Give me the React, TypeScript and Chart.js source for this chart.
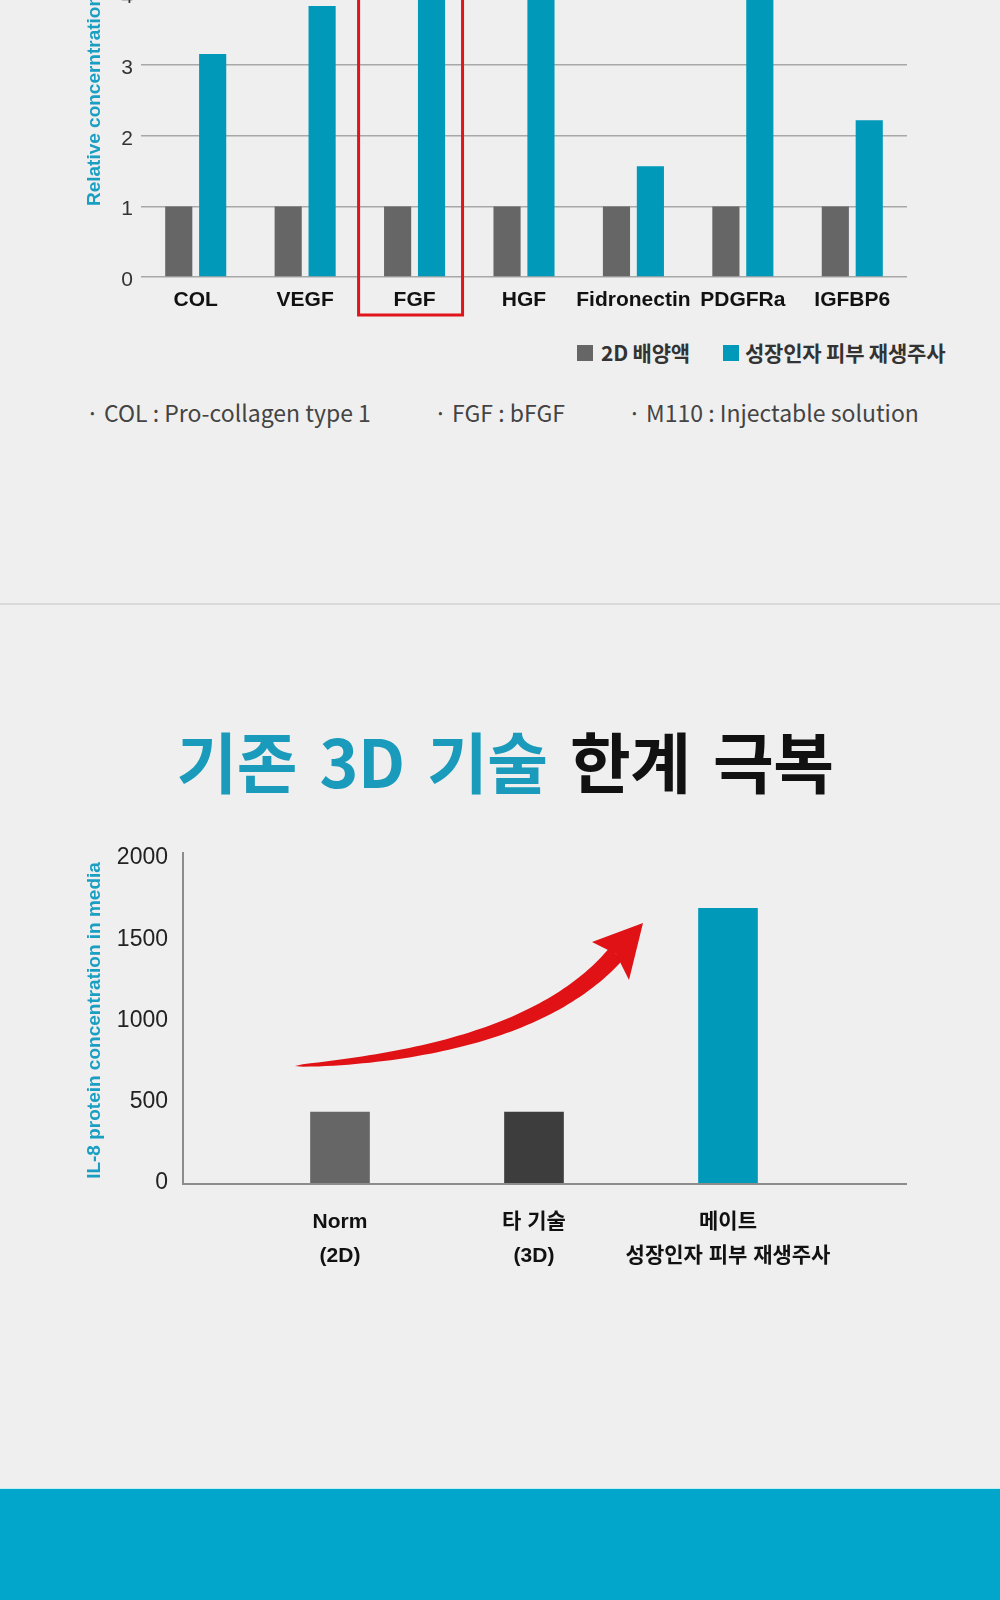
import React, { useEffect, useRef } from "react";
import { Chart, registerables } from "chart.js";

Chart.register(...registerables);

// ---------- data: top chart ----------
const topCategories = ["COL", "VEGF", "FGF", "HGF", "Fidronectin", "PDGFRa", "IGFBP6"];
const top2DValues = [1, 1, 1, 1, 1, 1, 1];
const topInjectionValues = [3.16, 3.84, 4.52, 4.35, 1.57, 4.71, 2.22];
const topYMin = 0;
const topYMax = 5;
const topYStep = 1;
const topYTitle = "Relative concerntration";
const seriesNames = ["2D 배양액", "성장인자 피부 재생주사"];
const highlightCategory = "FGF";
const footnotes = ["· COL : Pro-collagen type 1", "· FGF : bFGF", "· M110 : Injectable solution"];

// ---------- data: bottom chart ----------
const bottomCategories = [["Norm", "(2D)"], ["타 기술", "(3D)"], ["메이트", "성장인자 피부 재생주사"]];
const bottomValues = [437, 437, 1690];
const bottomYMin = 0;
const bottomYMax = 2000;
const bottomYStep = 500;
const bottomYTitle = "IL-8 protein concentration in media";
const titleBlue = "기존 3D 기술";
const titleBlack = "한계 극복";

// ---------- styles ----------
const GRAY = "#666666";
const DARK = "#3d3d3d";
const BLUE = "#0099ba";
const AXIS_BLUE = "#1a9ec2";
const LATIN = '"Liberation Sans", "Noto Sans CJK KR", sans-serif';
const CJK = '"Noto Sans CJK KR", sans-serif';

function TopChart() {
  const ref = useRef<HTMLCanvasElement>(null);
  useEffect(() => {
    const canvas = ref.current;
    if (!canvas) return;
    const hiIndex = topCategories.indexOf(highlightCategory);
    const highlightBox = {
      id: "highlightBox",
      afterDraw(chart: any) {
        const { ctx, chartArea } = chart;
        const x = chart.scales.x;
        const cx = x.getPixelForValue(hiIndex) - 4;
        const half = (x.width / topCategories.length) * 0.475;
        const top = chartArea.top - 10;
        const bottom = x.top + 38;
        ctx.save();
        ctx.strokeStyle = "#e0141b";
        ctx.lineWidth = 3;
        ctx.strokeRect(cx - half, top, half * 2, bottom - top);
        ctx.restore();
      },
    };
    const chart = new Chart(canvas, {
      type: "bar",
      data: {
        labels: topCategories,
        datasets: [
          {
            label: seriesNames[0],
            data: top2DValues,
            backgroundColor: GRAY,
            categoryPercentage: 0.62,
            barPercentage: 0.8,
          },
          {
            label: seriesNames[1],
            data: topInjectionValues,
            backgroundColor: BLUE,
            categoryPercentage: 0.62,
            barPercentage: 0.8,
          },
        ],
      },
      options: {
        responsive: false,
        animation: false,
        layout: { padding: { top: 34, left: 0, right: 93, bottom: 13 } },
        plugins: { legend: { display: false }, tooltip: { enabled: false } },
        scales: {
          x: {
            grid: { display: false, drawTicks: false },
            border: { display: false },
            ticks: {
              font: { family: LATIN, size: 21, weight: "bold" },
              color: "#111111",
              padding: 11,
              maxRotation: 0,
              minRotation: 0,
              autoSkip: false,
            },
            afterFit: (s: any) => {
              s.height = 40;
              s.paddingLeft = 0;
              s.paddingRight = 0;
            },
          },
          y: {
            min: topYMin,
            max: topYMax,
            ticks: {
              stepSize: topYStep,
              font: { family: LATIN, size: 21 },
              color: "#333333",
              padding: 8,
              labelOffset: 3,
              callback: (v: any) => String(v),
            },
            grid: { color: "#a8a8a8", lineWidth: 1.5, drawTicks: false },
            border: { display: false },
            title: {
              display: true,
              text: topYTitle,
              color: AXIS_BLUE,
              font: { family: LATIN, size: 19, weight: "bold" },
              padding: { top: 83.6, bottom: 0 },
            },
            afterFit: (s: any) => {
              s.width = 141;
              s.paddingTop = 0;
              s.paddingBottom = 0;
            },
          },
        },
      },
      plugins: [highlightBox],
    });
    return () => chart.destroy();
  }, []);
  return (
    <canvas
      ref={ref}
      width={1000}
      height={440}
      style={{ position: "absolute", left: 0, top: -110, width: 1000, height: 440 }}
    />
  );
}

function BottomChart() {
  const ref = useRef<HTMLCanvasElement>(null);
  useEffect(() => {
    const canvas = ref.current;
    if (!canvas) return;
    const axisLines = {
      id: "axisLines",
      beforeDatasetsDraw(chart: any) {
        const { ctx, chartArea } = chart;
        const y0 = chart.scales.y.getPixelForValue(0) + 1;
        const left = chartArea.left - 60;
        const right = chartArea.right + 82;
        ctx.save();
        ctx.strokeStyle = "#8c8c8c";
        ctx.lineWidth = 2;
        ctx.beginPath();
        ctx.moveTo(left, chartArea.top - 6);
        ctx.lineTo(left, y0);
        ctx.lineTo(right, y0);
        ctx.stroke();
        ctx.restore();
      },
    };
    const arrow = {
      id: "arrow",
      afterDatasetsDraw(chart: any) {
        const { ctx } = chart;
        const p0 = { x: 295, y: 246 };
        const p1 = { x: 530.6, y: 232 };
        const p2 = { x: 616, y: 134 };
        const tip = { x: 643, y: 103 };
        const c1 = { x: 592, y: 122 };
        const c2 = { x: 629, y: 160 };
        const upper: { x: number; y: number }[] = [];
        const lower: { x: number; y: number }[] = [];
        const N = 60;
        for (let i = 0; i <= N; i++) {
          const t = i / N;
          const mt = 1 - t;
          const x = mt * mt * p0.x + 2 * mt * t * p1.x + t * t * p2.x;
          const y = mt * mt * p0.y + 2 * mt * t * p1.y + t * t * p2.y;
          const dx = 2 * mt * (p1.x - p0.x) + 2 * t * (p2.x - p1.x);
          const dy = 2 * mt * (p1.y - p0.y) + 2 * t * (p2.y - p1.y);
          const len = Math.hypot(dx, dy) || 1;
          const nx = -dy / len;
          const ny = dx / len;
          const w = 9 * Math.pow(t, 0.5);
          upper.push({ x: x + nx * w, y: y + ny * w });
          lower.push({ x: x - nx * w, y: y - ny * w });
        }
        ctx.save();
        ctx.fillStyle = "#e01216";
        ctx.beginPath();
        ctx.moveTo(upper[0].x, upper[0].y);
        for (const p of upper) ctx.lineTo(p.x, p.y);
        for (let i = lower.length - 1; i >= 0; i--) ctx.lineTo(lower[i].x, lower[i].y);
        ctx.closePath();
        ctx.fill();
        ctx.beginPath();
        ctx.moveTo(tip.x, tip.y);
        ctx.lineTo(c1.x, c1.y);
        ctx.lineTo(p2.x, p2.y);
        ctx.lineTo(c2.x, c2.y);
        ctx.closePath();
        ctx.fill();
        ctx.restore();
      },
    };
    const chart = new Chart(canvas, {
      type: "bar",
      data: {
        labels: bottomCategories as any,
        datasets: [
          {
            data: bottomValues,
            backgroundColor: [GRAY, DARK, BLUE],
            barThickness: 59,
          },
        ],
      },
      options: {
        responsive: false,
        animation: false,
        layout: { padding: { top: 38, left: 0, right: 175, bottom: 17 } },
        plugins: { legend: { display: false }, tooltip: { enabled: false } },
        scales: {
          x: {
            grid: { display: false, drawTicks: false },
            border: { display: false },
            ticks: {
              font: { family: LATIN, size: 21, weight: "bold", lineHeight: 1.62 },
              color: "#111111",
              padding: 22,
              maxRotation: 0,
              minRotation: 0,
              autoSkip: false,
            },
            afterFit: (s: any) => {
              s.height = 90;
              s.paddingLeft = 0;
              s.paddingRight = 0;
            },
          },
          y: {
            min: bottomYMin,
            max: bottomYMax,
            ticks: {
              stepSize: bottomYStep,
              font: { family: LATIN, size: 23 },
              color: "#222222",
              padding: 75,
              callback: (v: any) => String(v),
            },
            grid: { display: false, drawTicks: false },
            border: { display: false },
            title: {
              display: true,
              text: bottomYTitle,
              color: AXIS_BLUE,
              font: { family: LATIN, size: 19, weight: "bold" },
              padding: { top: 83.1, bottom: 0 },
            },
            afterFit: (s: any) => {
              s.width = 243;
              s.paddingTop = 0;
              s.paddingBottom = 0;
            },
          },
        },
      },
      plugins: [axisLines, arrow],
    });
    return () => chart.destroy();
  }, []);
  return (
    <canvas
      ref={ref}
      width={1000}
      height={470}
      style={{ position: "absolute", left: 0, top: 820, width: 1000, height: 470 }}
    />
  );
}

export default function App() {
  const legendText: React.CSSProperties = {
    position: "absolute",
    top: 340,
    fontFamily: CJK,
    fontSize: 21,
    fontWeight: 700,
    lineHeight: "24px",
    color: "#333333",
    whiteSpace: "nowrap",
    letterSpacing: -0.2,
  };
  const footStyle: React.CSSProperties = {
    position: "absolute",
    top: 397,
    fontFamily: CJK,
    fontSize: 23,
    fontWeight: 400,
    lineHeight: "30px",
    color: "#444444",
    whiteSpace: "nowrap",
  };
  const footLefts = [86, 434, 628];
  return (
    <>
      <style>{`html,body{margin:0;padding:0;background:#efefef}`}</style>
      <div
        style={{
          position: "relative",
          width: 1000,
          height: 1600,
          overflow: "hidden",
          background: "#efefef",
          fontFamily: CJK,
        }}
      >
        <TopChart />
        <div style={{ position: "absolute", left: 577, top: 345, width: 16, height: 16, background: GRAY }} />
        <div style={{ ...legendText, left: 601 }}>{seriesNames[0]}</div>
        <div style={{ position: "absolute", left: 723, top: 345, width: 16, height: 16, background: BLUE }} />
        <div style={{ ...legendText, left: 745 }}>{seriesNames[1]}</div>
        {footnotes.map((f, i) => (
          <div key={i} style={{ ...footStyle, left: footLefts[i] }}>
            {f}
          </div>
        ))}
        <div style={{ position: "absolute", left: 0, top: 603, width: 1000, height: 2, background: "#d9d9d9" }} />
        <div
          style={{
            position: "absolute",
            left: 5,
            top: 719,
            width: 1000,
            textAlign: "center",
            fontFamily: CJK,
            fontSize: 66,
            fontWeight: 700,
            lineHeight: "80px",
            letterSpacing: -0.5,
            wordSpacing: 8,
            whiteSpace: "nowrap",
          }}
        >
          <span style={{ color: "#1a9bbb" }}>{titleBlue}</span>{" "}
          <span style={{ color: "#111111" }}>{titleBlack}</span>
        </div>
        <BottomChart />
        <div style={{ position: "absolute", left: 0, top: 1488, width: 1000, height: 1, background: "#bff0f5" }} />
        <div style={{ position: "absolute", left: 0, top: 1489, width: 1000, height: 111, background: "#03a6cb" }} />
      </div>
    </>
  );
}
